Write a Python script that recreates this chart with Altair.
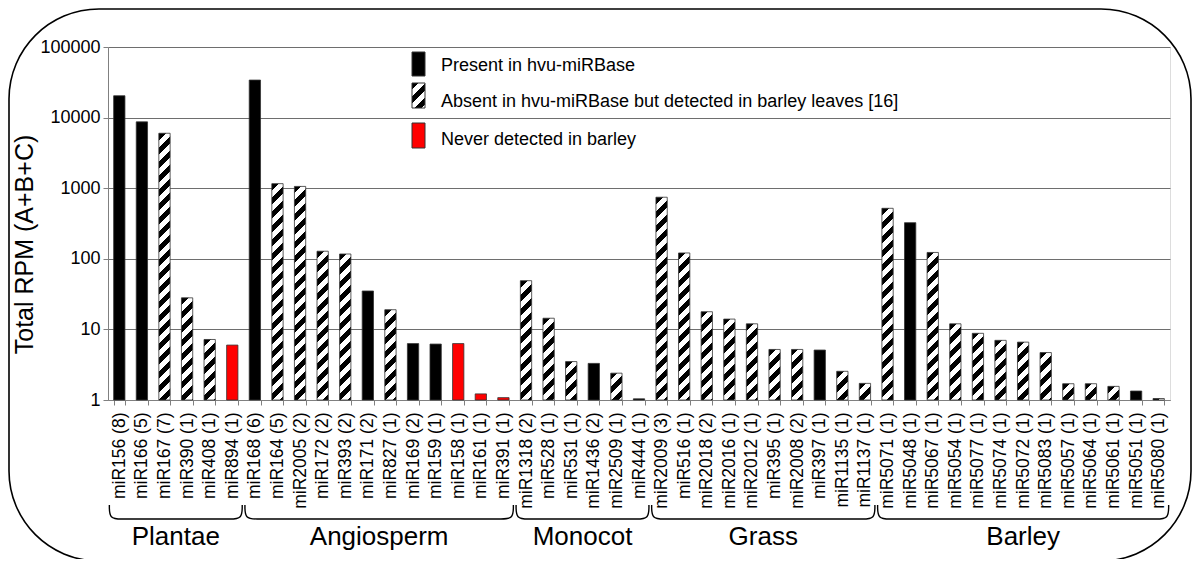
import math
import altair as alt
import pandas as pd

# ---------------- data ----------------
groups = ["Plantae", "Angiosperm", "Monocot", "Grass", "Barley"]
group_sizes = [6, 12, 6, 10, 13]

names = [
    "miR156 (8)", "miR166 (5)", "miR167 (7)", "miR390 (1)", "miR408 (1)", "miR894 (1)",
    "miR168 (6)", "miR164 (5)", "miR2005 (2)", "miR172 (2)", "miR393 (2)", "miR171 (2)",
    "miR827 (1)", "miR169 (2)", "miR159 (1)", "miR158 (1)", "miR161 (1)", "miR391 (1)",
    "miR1318 (2)", "miR528 (1)", "miR531 (1)", "miR1436 (2)", "miR2509 (1)", "miR444 (1)",
    "miR2009 (3)", "miR516 (1)", "miR2018 (2)", "miR2016 (1)", "miR2012 (1)", "miR395 (1)",
    "miR2008 (2)", "miR397 (1)", "miR1135 (1)", "miR1137 (1)",
    "miR5071 (1)", "miR5048 (1)", "miR5067 (1)", "miR5054 (1)", "miR5077 (1)", "miR5074 (1)",
    "miR5072 (1)", "miR5083 (1)", "miR5057 (1)", "miR5064 (1)", "miR5061 (1)", "miR5051 (1)",
    "miR5080 (1)",
]

values = [
    20400, 8700, 6000, 28, 7.2, 6.0,
    34000, 1160, 1060, 128, 117, 35, 19, 6.3, 6.2, 6.3, 1.22, 1.08,
    49, 14.4, 3.5, 3.3, 2.4, 1.04,
    745, 121, 17.8, 14, 12, 5.2, 5.2, 5.1, 2.55, 1.72,
    519, 325, 123, 12, 8.8, 7.0, 6.6, 4.7, 1.7, 1.7, 1.56, 1.34, 1.05,
]

# P = present in hvu-miRBase, A = absent but detected in leaves, N = never detected
status = [
    "P", "P", "A", "A", "A", "N",
    "P", "A", "A", "A", "A", "P", "A", "P", "P", "N", "N", "N",
    "A", "A", "A", "P", "A", "P",
    "A", "A", "A", "A", "A", "A", "A", "P", "A", "A",
    "A", "P", "A", "A", "A", "A", "A", "A", "A", "A", "A", "P", "A",
]

legend_labels = [
    "Present in hvu-miRBase",
    "Absent in hvu-miRBase but detected in barley leaves [16]",
    "Never detected in barley",
]

y_ticks = [1, 10, 100, 1000, 10000, 100000]
FONT = "Liberation Sans"

# ---------------- layout ----------------
W, H = 1062, 353
PAD = {"left": 100, "top": 39, "right": 22, "bottom": 159}
n_cat = len(names)
step = W / n_cat
bar_w = step * 0.5
px_per_decade = H / 5.0


def hatch(w, h, period=14.0, frac=0.5):
    """Diagonal '/' stripes built from a linear gradient in bbox units."""
    L = w + h
    n = L / period
    stops = []
    k = 0
    while k < n:
        a = k / n
        b = min((k + frac) / n, 1.0)
        c = min((k + 1) / n, 1.0)
        stops += [{"offset": round(a, 5), "color": "#000000"},
                  {"offset": round(b, 5), "color": "#000000"}]
        if b < 1.0:
            stops += [{"offset": round(b, 5), "color": "#ffffff"},
                      {"offset": round(c, 5), "color": "#ffffff"}]
        k += 1
    lam = L / (w * w + h * h)
    return {"gradient": "linear", "x1": 0, "y1": 0,
            "x2": round(lam * w, 6), "y2": round(lam * h, 6), "stops": stops}


df = pd.DataFrame({"idx": list(range(n_cat)), "name": names,
                   "value": values, "status": status})

conds = []
for i, (v, s) in enumerate(zip(values, status)):
    if s == "A":
        h = max(px_per_decade * math.log10(v), 1.0)
        conds.append({"test": f"datum.idx == {i}", "value": hatch(bar_w, h)})
conds.append({"test": "datum.status == 'N'", "value": "#ff0000"})
fill_enc = {"condition": conds, "value": "#000000"}

bars = alt.Chart(df).mark_bar(stroke="#333333", strokeWidth=0.8).encode(
    x=alt.X("name:N", sort=names,
            scale=alt.Scale(paddingInner=0.5, paddingOuter=0.25),
            axis=alt.Axis(title=None, labelAngle=270, labelFontSize=17.5, labelFont=FONT,
                          labelColor="#000000", labelOverlap=False, labelPadding=7,
                          tickBand="extent", tickSize=5, tickColor="#808080",
                          domainColor="#808080", grid=False)),
    y=alt.Y("value:Q",
            scale=alt.Scale(type="log", domain=[1, 100000]),
            axis=alt.Axis(title="Total RPM (A+B+C)", values=y_ticks, format="d",
                          labelFontSize=18, labelFont=FONT, labelColor="#000000",
                          labelPadding=3, tickSize=5, tickColor="#808080",
                          domainColor="#808080", grid=True, gridColor="#6e6e6e",
                          gridWidth=1, titleFontSize=25, titleFont=FONT,
                          titleFontWeight="normal", titleColor="#000000",
                          titleAngle=270, titleAlign="center", titleBaseline="middle",
                          titleX=-84, titleY=197)),
    y2=alt.datum(1),
    fill=fill_enc,
)

# ---------------- group braces & labels ----------------
brace_rows = []
label_rows = []
start = 0
gap, r = 0.06, 0.55
for g, n in zip(groups, group_sizes):
    s, e = start, start + n
    pts = [(s + gap, 0), (s + gap, 1), (s + gap + r, 1), (s + gap + 2 * r, 1),
           (e - gap - 2 * r, 1), (e - gap - r, 1), (e - gap, 1), (e - gap, 0)]
    for k, (px, py) in enumerate(pts):
        brace_rows.append({"group": g, "order": k, "bx": px, "by": py})
    label_rows.append({"group": g, "cx": (s + e) / 2.0})
    start = e

xq = alt.Scale(domain=[0, n_cat], range=[0, W], nice=False, zero=False)

braces = alt.Chart(pd.DataFrame(brace_rows)).mark_line(
    interpolate="basis", color="#000000", strokeWidth=1.4
).encode(
    x=alt.X("bx:Q", scale=xq, axis=None),
    y=alt.Y("by:Q", scale=alt.Scale(domain=[0, 1], range=[458, 472], nice=False, zero=False),
            axis=None),
    detail="group:N",
    order="order:Q",
)

glabels = alt.Chart(pd.DataFrame(label_rows)).mark_text(
    fontSize=26, font=FONT, color="#000000", baseline="middle", align="center"
).encode(
    x=alt.X("cx:Q", scale=xq, axis=None),
    y=alt.value(490),
    text="group:N",
)

# ---------------- outer rounded frame ----------------
frame = alt.Chart(pd.DataFrame({"k": [0]})).mark_rect(
    filled=False, stroke="#000000", strokeWidth=1.6, cornerRadius=90
).encode(
    x=alt.value(-99), x2=alt.value(1083),
    y=alt.value(-38), y2=alt.value(514),
)

# ---------------- manual legend ----------------
legend_fills = ["#000000", hatch(13, 25, period=14.0), "#ff0000"]
legend_sym_y = [(5, 29), (36, 61), (76, 101)]
legend_txt_y = [19, 55, 93]
legend_layers = []
for lab, fl, (y0, y1), ty in zip(legend_labels, legend_fills, legend_sym_y, legend_txt_y):
    ld = pd.DataFrame({"label": [lab]})
    legend_layers.append(
        alt.Chart(ld).mark_rect(fill=fl, stroke="#333333", strokeWidth=1).encode(
            x=alt.value(304), x2=alt.value(317), y=alt.value(y0), y2=alt.value(y1))
    )
    legend_layers.append(
        alt.Chart(ld).mark_text(align="left", baseline="middle", fontSize=18,
                                font=FONT, color="#000000").encode(
            x=alt.value(333), y=alt.value(ty), text="label:N")
    )

chart = alt.layer(bars, braces, glabels, frame, *legend_layers).resolve_scale(
    x="independent", y="independent"
).properties(
    width=W, height=H, padding=PAD,
    autosize=alt.AutoSizeParams(type="none"),
    background="#ffffff",
).configure_view(
    fill="#c0c0c0", stroke="#808080", strokeWidth=1
).configure(font=FONT)

chart.save("out.html", embed_options={"renderer": "svg", "actions": False})
